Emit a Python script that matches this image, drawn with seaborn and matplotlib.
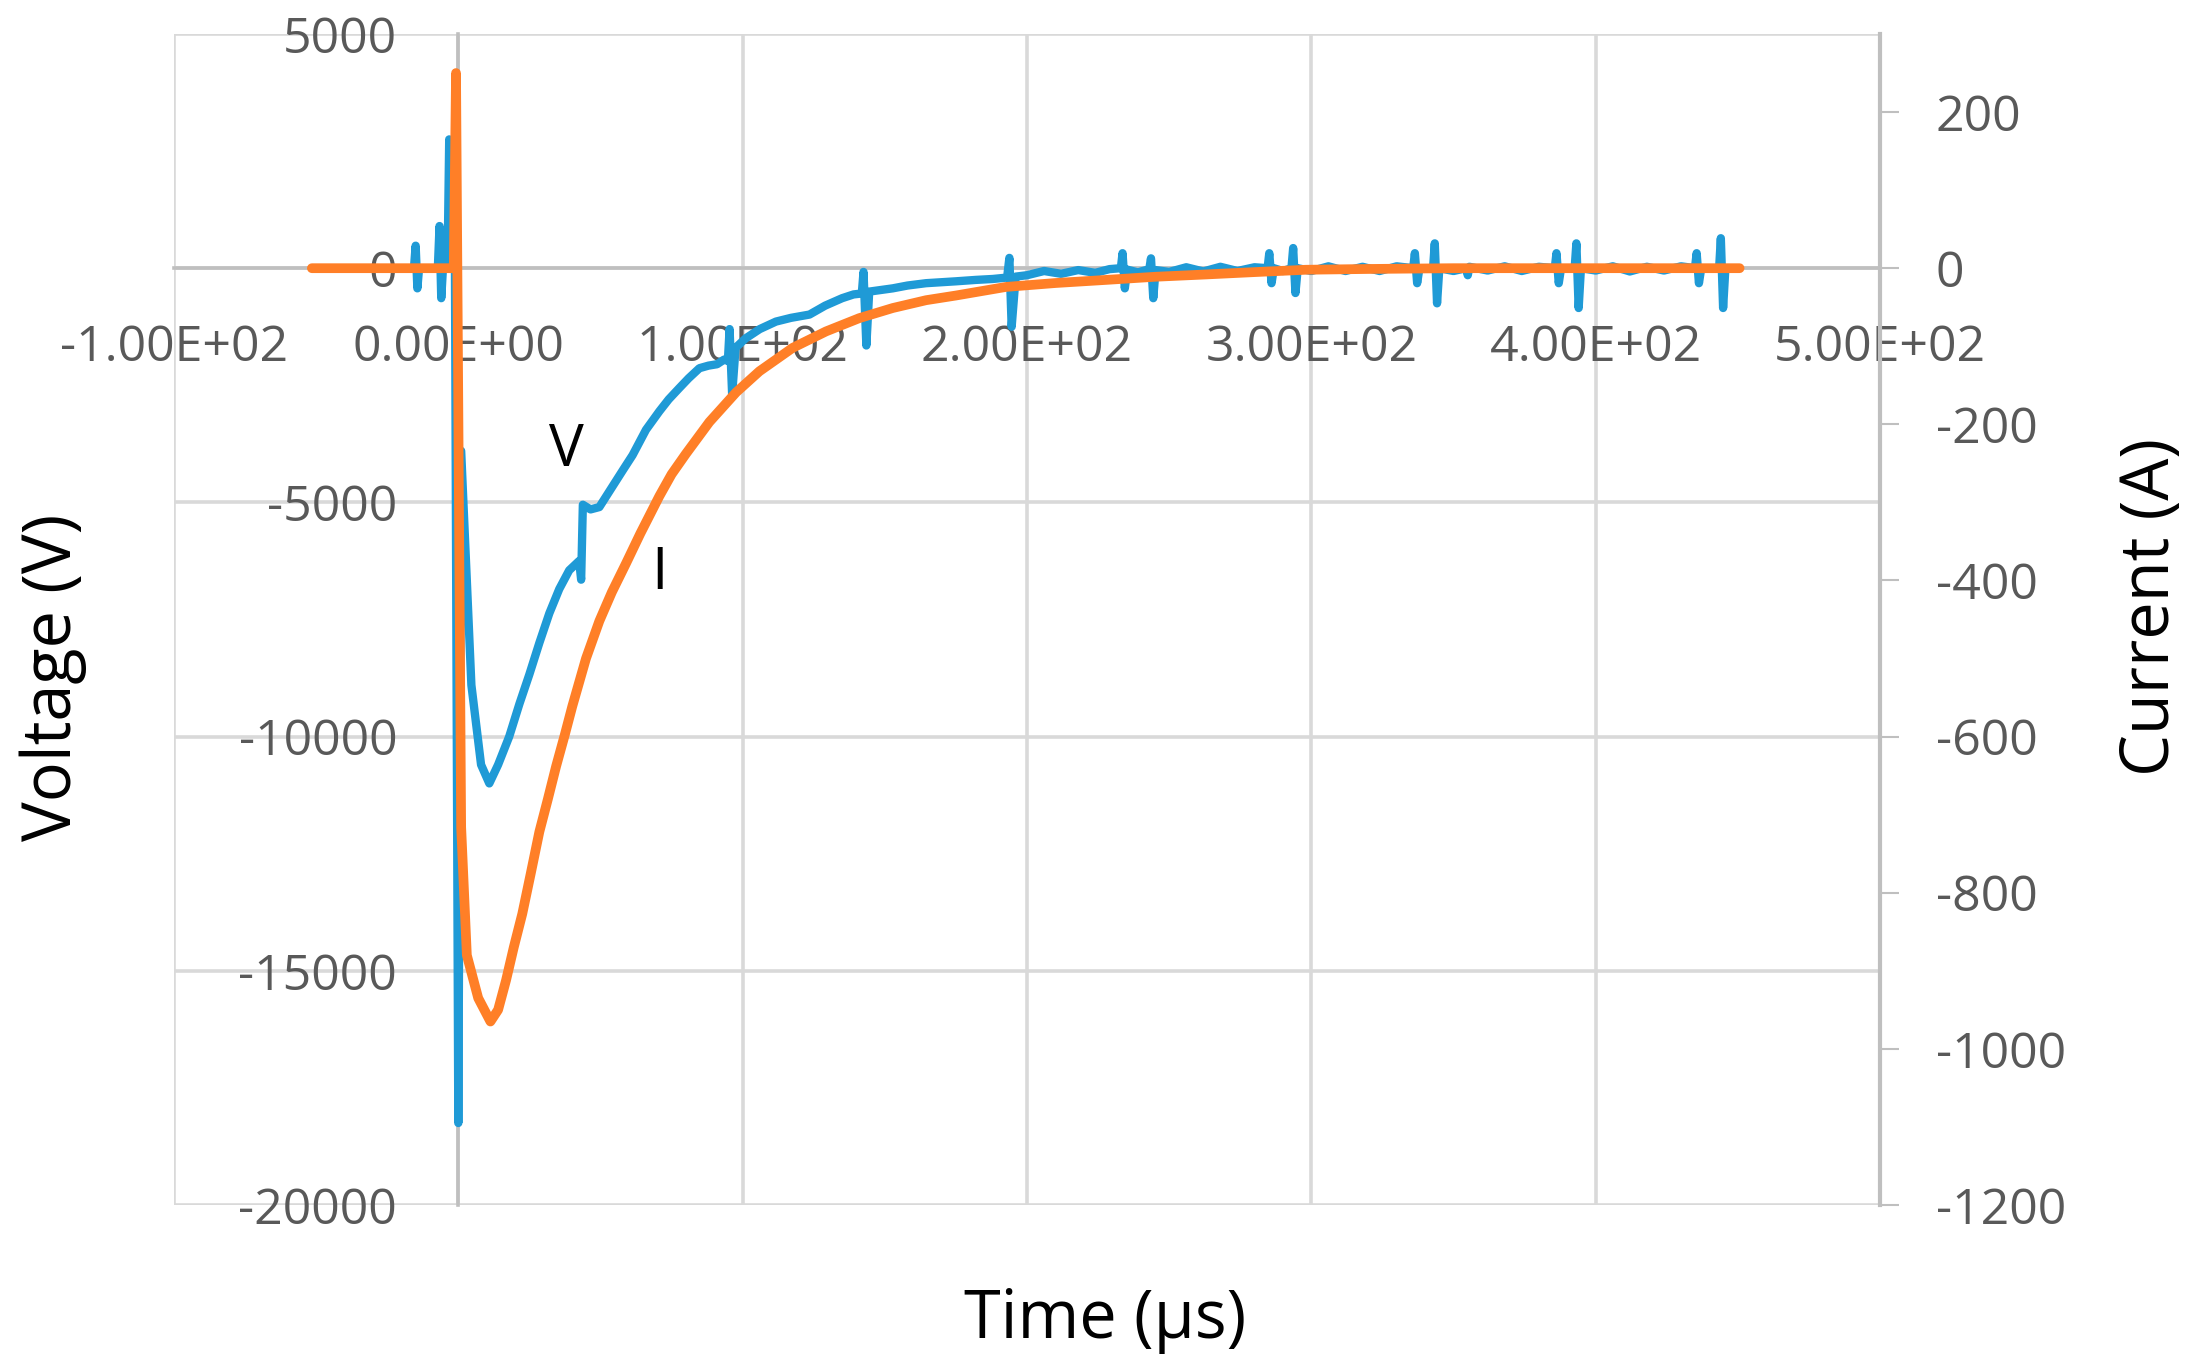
import matplotlib
matplotlib.use("Agg")
import matplotlib.pyplot as plt
import seaborn as sns
import pandas as pd

# ---------------- data ----------------
volt_t = [-51, -40, -30, -22, -15.6, -15.0, -14.4, -13.8, -7.2, -6.6, -6.0, -5.4,
          -3.8, -3.2, -2.4, -1.2, 0.0, 1.0, 4.6, 8.0, 10.9, 14.0, 17.9, 21.5,
          25.0, 28.5, 32.0, 35.5, 39.0, 42.5, 43.2, 43.8, 46.5, 49.6, 54.3, 58.0,
          61.3, 66.0, 70.7, 74.0, 77.7, 81.0, 84.8, 88.0, 91.0, 93.5, 94.8, 95.4,
          96.3, 97.5, 101.0, 106.0, 111.7, 117.0, 123.5, 129.0, 135.0, 139.0, 141.9, 142.5,
          143.5, 144.5, 148.0, 152.8, 158.0, 164.5, 170.0, 175.0, 182.0, 188.0, 193.0, 193.8,
          194.6, 196.0, 200.0, 206, 212, 218, 224, 229, 233.0, 233.6, 234.4, 235.2,
          239, 243.0, 243.6, 244.4, 245.2, 250, 256, 262, 268, 274, 280, 284.6,
          285.2, 286.0, 286.8, 290, 293.0, 293.6, 294.4, 295.2, 300, 306, 312, 318,
          324, 330, 335.8, 336.4, 337.2, 338.0, 342.8, 343.4, 344.2, 345.0, 350, 354.4,
          355.0, 355.6, 362, 368, 374, 380, 385.6, 386.2, 387.0, 387.8, 392.6, 393.2,
          394.0, 394.8, 400, 406, 412, 418, 424, 430, 434.9, 435.5, 436.3, 437.1,
          443.4, 444.0, 444.8, 445.6, 450]
volt_v = [0, 0, 0, 0, 0, 480, -430, 0, 0, 900, -640, 0,
          0, 2750, 1800, 300, -18250, -3900, -8900, -10600, -11000, -10600, -10000, -9300,
          -8670, -8000, -7370, -6850, -6450, -6250, -6650, -5050, -5150, -5100, -4650, -4300,
          -3990, -3450, -3055, -2800, -2560, -2350, -2135, -2080, -2050, -1950, -1980, -1300,
          -2700, -1700, -1500, -1300, -1140, -1060, -990, -800, -640, -560, -540, -80,
          -1650, -500, -470, -430, -370, -320, -300, -280, -250, -230, -200, 220,
          -1250, -180, -150, -60, -120, -40, -100, -20, 0, 320, -430, -30,
          -90, -20, 210, -640, -40, -80, 20, -70, 30, -60, 20, 0,
          320, -320, 0, -60, 0, 430, -530, 0, -60, 40, -60, 30,
          -60, 40, 0, 320, -320, 0, 0, 530, -750, 0, -60, 0,
          -150, 30, -50, 40, -60, 30, 0, 320, -320, 0, 0, 530,
          -850, 0, -50, 40, -70, 30, -50, 40, 0, 320, -320, 0,
          0, 640, -850, 0, 0]

curr_t = [-51.5, -40, -25, -10, -1.6, -0.8, 1.0, 3.0, 7.0, 11.3, 14.0, 16.8,
          19.5, 22.5, 25.5, 28.5, 31.5, 34.4, 37.5, 40.1, 44.9, 49.6, 54.0, 59.0,
          64.0, 70.7, 75.0, 80.0, 88.3, 97.7, 105.9, 117.6, 129.3, 141.0, 152.8, 164.5,
          175.0, 192.6, 210.0, 227.8, 245.0, 263.0, 280.0, 298.0, 320.0, 350.0, 400.0, 450.6]
curr_i = [0, 0, 0, 0, 0, 250, -716, -880, -935, -965, -950, -912,
          -870, -827, -775, -722, -680, -638, -597, -561, -500, -452, -415, -378,
          -340, -292, -264, -238, -197, -159, -132, -102, -81, -64, -51, -41,
          -35, -24, -19, -15, -11, -8, -5, -2, -1, 0, 0, 0]

x_ticks = [-100, 0, 100, 200, 300, 400, 500]
x_tick_labels = ["-1.00E+02", "0.00E+00", "1.00E+02", "2.00E+02",
                 "3.00E+02", "4.00E+02", "5.00E+02"]
v_ticks = [5000, 0, -5000, -10000, -15000, -20000]
v_tick_labels = ["5000", "0", "-5000", "-10000", "-15000", "-20000"]
i_ticks = [200, 0, -200, -400, -600, -800, -1000, -1200]
i_tick_labels = ["200", "0", "-200", "-400", "-600", "-800", "-1000", "-1200"]

df_v = pd.DataFrame({"t": volt_t, "v": volt_v})
df_i = pd.DataFrame({"t": curr_t, "i": curr_i})

# ---------------- style ----------------
sns.set_style("white")
plt.rcParams["font.family"] = ["Open Sans", "DejaVu Sans"]

BLUE = "#1f9ad6"
ORANGE = "#ff7f27"
GRID = "#d9d9d9"
AXIS = "#bfbfbf"
TICK = "#595959"

fig = plt.figure(figsize=(22.02, 13.71), dpi=100)
ax = fig.add_axes([0.079, 0.1211, 0.8538 - 0.079, 0.9752 - 0.1211])
ax2 = ax.twinx()

sns.lineplot(data=df_v, x="t", y="v", ax=ax, estimator=None, sort=False,
             color=BLUE, linewidth=6)
sns.lineplot(data=df_i, x="t", y="i", ax=ax2, estimator=None, sort=False,
             color=ORANGE, linewidth=7)

ax.set_xlim(-100, 500)
ax.set_ylim(-20000, 5000)
ax2.set_ylim(-1200, 300)

ax.set_xticks(x_ticks)
ax.set_xticklabels(x_tick_labels)
ax.set_yticks(v_ticks)
ax.set_yticklabels(v_tick_labels)
ax2.set_yticks(i_ticks)
ax2.set_yticklabels(i_tick_labels)

ax.set_xlabel("")
ax.set_ylabel("")
ax2.set_ylabel("")

ax.set_axisbelow(True)
ax.grid(True, color=GRID, linewidth=2.6)
for gl in ax.get_xgridlines() + ax.get_ygridlines():
    gl.set_clip_on(False)

# primary axes cross at zero
ax.spines["left"].set_position(("data", 0))
ax.spines["bottom"].set_position(("data", 0))
for s in ("left", "bottom"):
    ax.spines[s].set_color(AXIS)
    ax.spines[s].set_linewidth(2.6)
    ax.spines[s].set_zorder(1.5)
ax.spines["top"].set_visible(False)
ax.spines["right"].set_visible(False)
for s in ("left", "bottom", "top"):
    ax2.spines[s].set_visible(False)
ax2.spines["right"].set_color(AXIS)
ax2.spines["right"].set_linewidth(3)

ax.tick_params(axis="x", length=0, pad=40, labelsize=36, labelcolor=TICK)
ax.tick_params(axis="y", length=0, pad=44, labelsize=36, labelcolor=TICK)
ax2.tick_params(axis="y", length=14, width=1.5, color=AXIS, pad=26,
                labelsize=36, labelcolor=TICK)

# series annotations
ax.text(38, -3900, "V", fontsize=42, color="black", ha="center", va="center")
ax.text(70.7, -6530, "I", fontsize=42, color="black", ha="center", va="center")

# axis titles
fig.text(0.502, 0.037, "Time (\u03bcs)", fontsize=48, color="black",
         ha="center", va="center")
fig.text(0.024, 0.506, "Voltage (V)", fontsize=48, color="black",
         ha="center", va="center", rotation=90)
fig.text(0.977, 0.557, "Current (A)", fontsize=48, color="black",
         ha="center", va="center", rotation=90)

fig.savefig("out.png", dpi=100, facecolor="white")
